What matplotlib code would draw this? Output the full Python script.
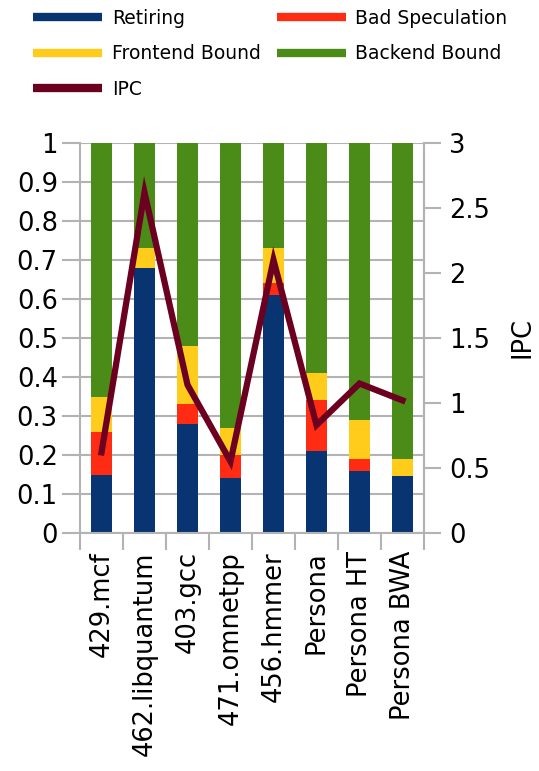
import matplotlib
matplotlib.use("Agg")
import matplotlib.pyplot as plt
from matplotlib.lines import Line2D
import numpy as np

plt.rcParams['font.family'] = ['DejaVu Sans']

categories = ["429.mcf", "462.libquantum", "403.gcc", "471.omnetpp",
              "456.hmmer", "Persona", "Persona HT", "Persona BWA"]
retiring = [0.15, 0.68, 0.28, 0.14, 0.61, 0.21, 0.16, 0.145]
bad_speculation = [0.11, 0.00, 0.05, 0.06, 0.03, 0.13, 0.03, 0.00]
frontend_bound = [0.09, 0.05, 0.15, 0.07, 0.09, 0.07, 0.10, 0.045]
backend_bound = [1 - r - b - f for r, b, f in zip(retiring, bad_speculation, frontend_bound)]
ipc = [0.62, 2.62, 1.14, 0.55, 2.10, 0.83, 1.15, 1.02]

left_ticks = [0, 0.1, 0.2, 0.3, 0.4, 0.5, 0.6, 0.7, 0.8, 0.9, 1]
right_ticks = [0, 0.5, 1, 1.5, 2, 2.5, 3]

c_ret = "#083471"
c_bad = "#ff2b12"
c_fe = "#ffcc1c"
c_be = "#4b8c18"
c_ipc = "#6c0021"
grid_c = "#b3b3b3"
fs = 18.5

W, H = 539, 771
fig = plt.figure(figsize=(W / 100, H / 100), dpi=100)
l, r, t, b = 80, 424, 143, 533
ax = fig.add_axes([l / W, 1 - b / H, (r - l) / W, (b - t) / H])

x = np.arange(len(categories))
w = 0.51
bottom = np.zeros(len(categories))
for vals, col in [(retiring, c_ret), (bad_speculation, c_bad),
                  (frontend_bound, c_fe), (backend_bound, c_be)]:
    ax.bar(x, vals, w, bottom=bottom, color=col, zorder=2)
    bottom += np.array(vals)

ax.set_xlim(-0.5, len(categories) - 0.5)
ax.set_ylim(0, 1)
ax.set_yticks(left_ticks)
ax.set_yticklabels([f"{v:g}" for v in left_ticks])
ax.yaxis.grid(True, color=grid_c, linewidth=1.5, zorder=0)
ax.set_axisbelow(True)
ax.tick_params(axis='y', length=13, width=1.5, color=grid_c, labelsize=fs, pad=3)

ax.set_xticks(np.arange(len(categories) + 1) - 0.5, minor=False)
ax.set_xticklabels([])
ax.set_xticks(x, minor=True)
ax.set_xticklabels(categories, minor=True, rotation=90, fontsize=fs)
ax.tick_params(axis='x', which='major', length=12, width=1.5, color=grid_c)
ax.tick_params(axis='x', which='minor', length=0, pad=13)

for s in ['left', 'bottom', 'right']:
    ax.spines[s].set_color(grid_c)
    ax.spines[s].set_linewidth(1.5)
ax.spines['top'].set_visible(False)

ax2 = ax.twinx()
ax2.plot(x, ipc, color=c_ipc, linewidth=4.5, solid_joinstyle='miter', zorder=5)
ax2.set_ylim(0, 3)
ax2.set_yticks(right_ticks)
ax2.set_yticklabels([f"{v:g}" for v in right_ticks])
ax2.tick_params(axis='y', length=12, width=1.5, color=grid_c, labelsize=fs, pad=6)
ax2.set_ylabel("IPC", fontsize=fs, labelpad=14)
for s in ['left', 'bottom', 'top']:
    ax2.spines[s].set_visible(False)
ax2.spines['right'].set_color(grid_c)
ax2.spines['right'].set_linewidth(1.5)

handles = [
    Line2D([], [], color=c_ret, linewidth=6, solid_capstyle='butt'),
    Line2D([], [], color=c_fe, linewidth=6, solid_capstyle='butt'),
    Line2D([], [], color=c_ipc, linewidth=6, solid_capstyle='butt'),
    Line2D([], [], color=c_bad, linewidth=6, solid_capstyle='butt'),
    Line2D([], [], color=c_be, linewidth=6, solid_capstyle='butt'),
]
labels = ["Retiring", "Frontend Bound", "IPC", "Bad Speculation", "Backend Bound"]
fig.legend(handles, labels, ncol=2, loc='upper left',
           bbox_to_anchor=(33 / W, 1 - 9 / H), frameon=False,
           fontsize=13.5, handlelength=3.7, handletextpad=0.5,
           columnspacing=0.85, labelspacing=0.87, borderpad=0, borderaxespad=0)

fig.savefig("out.png", dpi=100)
